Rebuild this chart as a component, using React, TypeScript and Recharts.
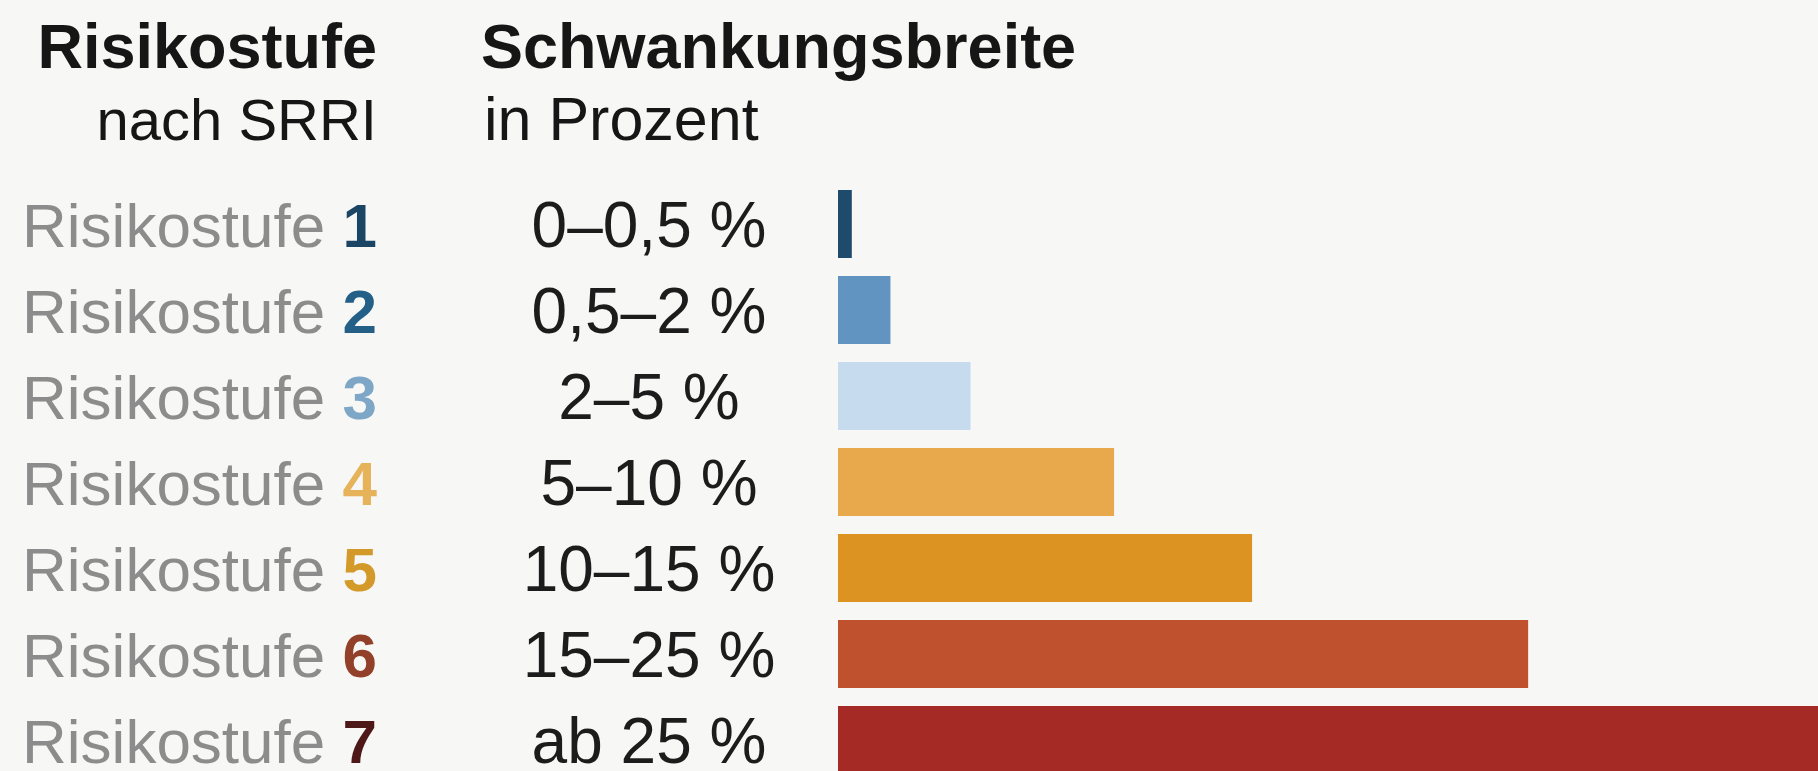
import { BarChart, Bar, XAxis, YAxis, Cell } from "recharts";

const levels = ["1", "2", "3", "4", "5", "6", "7"];
const rangeLabels = ["0–0,5 %", "0,5–2 %", "2–5 %", "5–10 %", "10–15 %", "15–25 %", "ab 25 %"];
const spread = [0.5, 1.9, 4.8, 10, 15, 25, 35.5];

const barColors = ["#1e4b6c", "#6294c1", "#c6dbee", "#e7a94c", "#dc9322", "#c0512f", "#a52a25"];
const numberColors = ["#1b4565", "#245f88", "#7ea6c6", "#e6b25a", "#d39a2a", "#93402b", "#4e1818"];

const data = levels.map((level, i) => ({
  name: level,
  range: rangeLabels[i],
  value: spread[i],
}));

const FONT = "'Liberation Sans', Arial, Helvetica, sans-serif";

function RowTick(props: any) {
  const { y, payload, index } = props;
  return (
    <g>
      <text x={377} y={y + 23} textAnchor="end" fontSize={62} fontFamily={FONT} fill="#8c8c8c">
        Risikostufe{" "}
        <tspan fontWeight="bold" fill={numberColors[index]}>
          {payload.value}
        </tspan>
      </text>
      <text x={649} y={y + 23} textAnchor="middle" fontSize={64} fontFamily={FONT} fill="#1c1c1c">
        {rangeLabels[index]}
      </text>
    </g>
  );
}

export default function App() {
  return (
    <div
      style={{
        position: "absolute",
        left: 0,
        top: 0,
        width: 1818,
        height: 771,
        overflow: "hidden",
        background: "#f7f7f5",
      }}
    >
      {/* HEADER */}
      <svg width={1818} height={180} style={{ position: "absolute", left: 0, top: 0 }}>
        <g fontFamily={FONT} fill="#161616">
          <text x={377} y={68} textAnchor="end" fontSize={63} fontWeight="bold">
            Risikostufe
          </text>
          <text x={481} y={68} fontSize={63} fontWeight="bold">
            Schwankungsbreite
          </text>
          <text x={377} y={140} textAnchor="end" fontSize={58}>
            nach SRRI
          </text>
          <text x={484} y={140} fontSize={61}>
            in Prozent
          </text>
        </g>
      </svg>

      {/* CHART */}
      <div style={{ position: "absolute", left: 0, top: 0 }}>
        <BarChart
          width={1818}
          height={790}
          data={data}
          layout="vertical"
          margin={{ top: 181, right: 0, bottom: 7, left: 0 }}
        >
          <XAxis type="number" domain={[0, 35.5]} hide />
          <YAxis
            type="category"
            dataKey="name"
            width={838}
            axisLine={false}
            tickLine={false}
            tick={<RowTick />}
            interval={0}
          />
          <Bar dataKey="value" barSize={68} isAnimationActive={false}>
            {data.map((d, i) => (
              <Cell key={d.name} fill={barColors[i]} />
            ))}
          </Bar>
        </BarChart>
      </div>
    </div>
  );
}
